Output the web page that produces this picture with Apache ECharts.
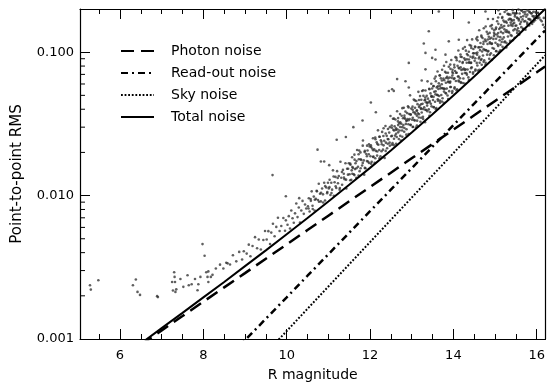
<!DOCTYPE html>
<html><head><meta charset="utf-8">
<script src="https://cdn.jsdelivr.net/npm/echarts@6/dist/echarts.min.js"></script>
<style>html,body{margin:0;padding:0;background:#fff}#c{width:548px;height:387px}</style>
</head><body><div id="c"></div>
<script>
const FONT = 'DejaVu Sans';
const xMin = 5.04, xMax = 16.21;
const yMin = 0.001, yMax = 0.2;
const xMajorTicks = [6, 8, 10, 12, 14, 16];
const xMinorTicks = [5.5, 6.5, 7, 7.5, 8.5, 9, 9.5, 10.5, 11, 11.5, 12.5, 13, 13.5, 14.5, 15, 15.5];
const yMinorTicks = [0.002, 0.003, 0.004, 0.005, 0.006, 0.007, 0.008, 0.009,
                     0.02, 0.03, 0.04, 0.05, 0.06, 0.07, 0.08, 0.09];
const legendNames = ['Photon noise', 'Read-out noise', 'Sky noise', 'Total noise'];

// noise model curves
const curveMag     = [6.5, 7, 7.5, 8, 8.5, 9, 9.5, 10, 10.5, 11, 11.5, 12, 12.5, 13, 13.5, 14, 14.5, 15, 15.5, 16, 16.2];
const photonNoise  = [0.000912, 0.001148, 0.001445, 0.00182, 0.00229, 0.00288, 0.00363, 0.00457, 0.00575, 0.00724, 0.00912, 0.01148, 0.01445, 0.0182, 0.0229, 0.0288, 0.0363, 0.0457, 0.0575, 0.0724, 0.0794];
const readoutNoise = [0.000174, 0.000246, 0.000348, 0.000491, 0.000693, 0.00098, 0.001384, 0.001954, 0.002761, 0.003899, 0.005508, 0.00778, 0.01099, 0.01552, 0.02193, 0.03097, 0.04375, 0.0618, 0.0873, 0.1233, 0.1416];
const skyNoise     = [0.0000935, 0.000134, 0.000191, 0.000273, 0.00039, 0.000557, 0.000796, 0.001137, 0.001625, 0.002322, 0.003318, 0.004741, 0.006774, 0.009678, 0.01383, 0.01976, 0.02823, 0.04034, 0.05764, 0.08237, 0.0950];
const totalNoise   = [0.00093, 0.00119, 0.00152, 0.00195, 0.0025, 0.00322, 0.00415, 0.00538, 0.00698, 0.0091, 0.0119, 0.0156, 0.0206, 0.0275, 0.0369, 0.0498, 0.0676, 0.0925, 0.127, 0.176, 0.200];

// measured stars [R magnitude, point-to-point RMS]
const stars = [
[5.28,0.00237],[5.30,0.00221],[5.48,0.00257],[6.31,0.00237],[6.38,0.00260],[6.42,0.00213],[6.48,0.00203],[6.89,0.00199],[6.91,0.00196],[7.25,0.00250],[7.27,0.00218],[7.30,0.00292],[7.32,0.00250],[7.33,0.00213],[7.35,0.00222],[7.31,0.00271],[7.45,0.00262],[7.52,0.00231],[7.62,0.00278],[7.65,0.00237],[7.72,0.00241],[7.80,0.00262],[7.86,0.00219],[7.88,0.00241],[7.93,0.00271],[7.98,0.00459],[8.03,0.00381],[8.07,0.00292],[8.10,0.00271],[8.12,0.00296],[8.12,0.00250],[8.18,0.00271],[8.22,0.00280],[8.30,0.00310],[8.40,0.00330],[8.48,0.00310],[8.55,0.00340],
[8.58,0.00337],[8.64,0.00331],[8.71,0.00384],[8.79,0.00348],[8.86,0.00405],[8.93,0.00358],[8.97,0.00409],
[9.04,0.00394],[9.09,0.00455],[9.13,0.00378],[9.18,0.00445],[9.24,0.00513],[9.29,0.00429],[9.33,0.00494],[9.38,0.00421],[9.44,0.00490],[9.48,0.00567],
[9.52,0.00494],[9.56,0.00565],[9.60,0.00460],[9.63,0.00552],[9.67,0.00637],[9.71,0.00520],[9.75,0.00605],[9.79,0.00700],[9.83,0.00567],[9.87,0.00614],[9.92,0.00697],[9.96,0.00569],[9.98,0.00672],
[10.02,0.00626],[10.05,0.00719],[10.08,0.00589],[10.11,0.00787],[10.14,0.00695],[10.17,0.00647],[10.20,0.00752],[10.23,0.00880],[10.26,0.00708],[10.29,0.00826],[10.32,0.00649],[10.35,0.00788],[10.38,0.00918],[10.41,0.00746],[10.44,0.00867],[10.47,0.00812],
[10.51,0.00842],[10.53,0.00957],[10.55,0.00774],[10.58,0.00919],[10.60,0.0107],[10.62,0.00849],[10.65,0.00984],[10.67,0.00788],[10.70,0.00948],[10.72,0.0108],[10.75,0.00932],[10.77,0.0121],[10.80,0.0103],[10.82,0.00911],[10.85,0.0112],[10.87,0.0102],[10.90,0.0123],[10.92,0.00925],[10.95,0.0114],[10.97,0.0104],[10.99,0.0123],
[11.01,0.0112],[11.03,0.0129],[11.05,0.0101],[11.07,0.0123],[11.09,0.0110],[11.11,0.0150],[11.13,0.00996],[11.15,0.0124],[11.17,0.0135],[11.19,0.0113],[11.21,0.0148],[11.23,0.0122],[11.25,0.0137],[11.27,0.0110],[11.29,0.0172],[11.31,0.0133],[11.33,0.0119],[11.35,0.0151],[11.37,0.0142],[11.39,0.0130],[11.41,0.0168],[11.43,0.0112],[11.45,0.0154],[11.47,0.0140],[11.49,0.0168],
[11.51,0.0141],[11.53,0.0164],[11.55,0.0129],[11.56,0.0150],[11.57,0.0185],[11.59,0.0156],[11.61,0.0141],[11.63,0.0178],[11.64,0.0153],[11.65,0.0168],[11.67,0.0133],[11.69,0.0208],[11.71,0.0159],[11.73,0.0179],[11.74,0.0206],[11.75,0.0148],[11.77,0.0200],[11.79,0.0177],[11.81,0.0162],[11.83,0.0242],[11.85,0.0176],[11.86,0.0140],[11.87,0.0201],[11.89,0.0155],[11.91,0.0195],[11.93,0.0223],[11.94,0.0206],[11.95,0.0173],[11.97,0.0194],[11.99,0.0220],
[12.01,0.0188],[12.02,0.0224],[12.04,0.0172],[12.05,0.0213],[12.07,0.0251],[12.08,0.0187],[12.10,0.0210],[12.11,0.0169],[12.13,0.0247],[12.14,0.0205],[12.16,0.0235],[12.17,0.0190],[12.19,0.0285],[12.20,0.0226],[12.22,0.0208],[12.23,0.0257],[12.25,0.0188],[12.26,0.0243],[12.28,0.0228],[12.29,0.0278],[12.31,0.0209],[12.32,0.0260],[12.34,0.0241],[12.35,0.0183],[12.37,0.0306],[12.38,0.0234],[12.40,0.0261],[12.41,0.0214],[12.43,0.0291],[12.44,0.0247],[12.46,0.0275],[12.47,0.0234],[12.49,0.0359],
[12.51,0.0259],[12.52,0.0308],[12.54,0.0232],[12.55,0.0343],[12.56,0.0288],[12.57,0.0225],[12.59,0.0304],[12.60,0.0262],[12.61,0.0339],[12.62,0.0287],[12.64,0.0256],[12.65,0.0387],[12.66,0.0289],[12.67,0.0329],[12.69,0.0248],[12.70,0.0319],[12.71,0.0284],[12.72,0.0370],[12.74,0.0242],[12.75,0.0317],[12.76,0.0360],[12.77,0.0284],[12.79,0.0346],[12.80,0.0310],[12.81,0.0410],[12.82,0.0279],[12.84,0.0343],[12.85,0.0385],[12.86,0.0316],[12.87,0.0266],[12.89,0.0376],[12.90,0.0342],[12.91,0.0419],[12.92,0.0314],[12.94,0.0371],[12.95,0.0342],[12.96,0.0500],[12.97,0.0310],[12.99,0.0404],
[13.01,0.0338],[13.02,0.0417],[13.03,0.0302],[13.04,0.0381],[13.05,0.0467],[13.06,0.0336],[13.08,0.0409],[13.09,0.0371],[13.10,0.0298],[13.11,0.0457],[13.12,0.0389],[13.13,0.0333],[13.14,0.0434],[13.15,0.0375],[13.16,0.0529],[13.17,0.0350],[13.19,0.0425],[13.20,0.0494],[13.21,0.0327],[13.22,0.0407],[13.23,0.0466],[13.24,0.0380],[13.25,0.0536],[13.26,0.0437],[13.27,0.0354],[13.28,0.0496],[13.30,0.0413],[13.31,0.0462],[13.32,0.0325],[13.33,0.0541],[13.34,0.0447],[13.35,0.0395],[13.36,0.0496],[13.37,0.0424],[13.38,0.0626],[13.39,0.0474],[13.41,0.0399],[13.42,0.0556],[13.43,0.0457],[13.44,0.0381],[13.45,0.0516],[13.46,0.0437],[13.47,0.0603],[13.48,0.0489],[13.49,0.0558],
[13.51,0.0464],[13.52,0.0578],[13.53,0.0414],[13.54,0.0529],[13.55,0.0654],[13.56,0.0451],[13.57,0.0508],[13.58,0.0627],[13.59,0.0408],[13.60,0.0568],[13.61,0.0504],[13.62,0.0733],[13.63,0.0459],[13.64,0.0553],[13.65,0.0606],[13.66,0.0495],[13.67,0.0687],[13.68,0.0444],[13.69,0.0559],[13.70,0.0657],[13.71,0.0503],[13.72,0.0598],[13.73,0.0755],[13.74,0.0477],[13.75,0.0558],[13.76,0.0655],[13.77,0.0443],[13.78,0.0638],[13.79,0.0553],[13.80,0.0729],[13.81,0.0519],[13.82,0.0612],[13.83,0.0855],[13.84,0.0557],[13.85,0.0673],[13.86,0.0499],[13.87,0.0719],[13.88,0.0617],[13.89,0.0792],[13.90,0.0535],[13.91,0.0666],[13.92,0.0613],[13.93,0.0765],[13.94,0.0572],[13.95,0.0881],[13.96,0.0662],[13.97,0.0519],[13.98,0.0753],[13.99,0.0713],
[14.01,0.0651],[14.02,0.0816],[14.03,0.0568],[14.04,0.0740],[14.05,0.0923],[14.06,0.0630],[14.07,0.0718],[14.08,0.0879],[14.09,0.0552],[14.10,0.0804],[14.11,0.0676],[14.12,0.1027],[14.13,0.0624],[14.14,0.0770],[14.15,0.0861],[14.16,0.0658],[14.17,0.0964],[14.18,0.0611],[14.19,0.0753],[14.20,0.0926],[14.21,0.0706],[14.22,0.0841],[14.23,0.1058],[14.24,0.0656],[14.25,0.0770],[14.26,0.0908],[14.27,0.0604],[14.28,0.0884],[14.29,0.0759],[14.30,0.1025],[14.31,0.0714],[14.32,0.0844],[14.33,0.1214],[14.34,0.0758],[14.35,0.0952],[14.36,0.0667],[14.37,0.1008],[14.38,0.0851],[14.39,0.1120],[14.40,0.0728],[14.41,0.0930],[14.42,0.0840],[14.43,0.1071],[14.44,0.0785],[14.45,0.1228],[14.46,0.0913],[14.47,0.0707],[14.48,0.1051],[14.49,0.0983],
[14.51,0.0870],[14.52,0.1096],[14.53,0.0758],[14.54,0.0984],[14.55,0.1242],[14.56,0.0842],[14.57,0.0960],[14.58,0.1209],[14.59,0.0744],[14.60,0.1080],[14.61,0.0905],[14.62,0.1422],[14.63,0.0843],[14.64,0.1033],[14.65,0.1159],[14.66,0.0881],[14.67,0.1308],[14.68,0.0818],[14.69,0.1012],[14.70,0.1256],[14.71,0.0948],[14.72,0.1141],[14.73,0.1468],[14.74,0.0879],[14.75,0.1035],[14.76,0.1224],[14.77,0.0816],[14.78,0.1191],[14.79,0.1029],[14.80,0.1387],[14.81,0.0961],[14.82,0.1140],[14.83,0.1704],[14.84,0.1020],[14.85,0.1280],[14.86,0.0898],[14.87,0.1363],[14.88,0.1150],[14.89,0.1519],[14.90,0.0981],[14.91,0.1259],[14.92,0.1143],[14.93,0.1460],[14.94,0.1068],[14.95,0.1702],[14.96,0.1236],[14.97,0.0952],[14.98,0.1424],[14.99,0.1333],
[15.01,0.1164],[15.02,0.1452],[15.03,0.1018],[15.04,0.1329],[15.05,0.1643],[15.06,0.1134],[15.07,0.1286],[15.08,0.1576],[15.09,0.1000],[15.10,0.1449],[15.11,0.1210],[15.12,0.1846],[15.13,0.1126],[15.14,0.1385],[15.15,0.1547],[15.16,0.1178],[15.17,0.1732],[15.18,0.1089],[15.19,0.1357],[15.20,0.1661],[15.21,0.1268],[15.22,0.1522],[15.23,0.1906],[15.24,0.1186],[15.25,0.1389],[15.26,0.1638],[15.27,0.1077],[15.28,0.1604],[15.29,0.1380],[15.30,0.1848],[15.31,0.1285],[15.32,0.1531],[15.33,0.1826],[15.34,0.1367],[15.35,0.1711],[15.36,0.1198],[15.37,0.1827],[15.38,0.1543],[15.39,0.1684],[15.40,0.1300],[15.41,0.1657],[15.42,0.1523],[15.43,0.1873],[15.44,0.1420],[15.45,0.1676],[15.46,0.1600],[15.47,0.1260],[15.48,0.1834],[15.49,0.1529],
[15.51,0.1534],[15.52,0.1866],[15.53,0.1360],[15.54,0.1721],[15.55,0.1469],[15.56,0.1982],[15.57,0.1663],[15.58,0.1326],[15.59,0.1860],[15.60,0.1574],[15.62,0.1760],[15.63,0.1495],[15.64,0.1950],[15.66,0.1693],[15.67,0.1448],[15.68,0.1902],[15.70,0.1637],[15.72,0.1835],[15.73,0.1434],[15.75,0.1766],[15.77,0.1608],[15.78,0.1955],[15.80,0.1703],[15.82,0.1537],[15.83,0.1894],[15.85,0.1679],[15.87,0.1863],[15.89,0.1576],[15.90,0.1785],[15.92,0.1910],[15.94,0.1731],[15.96,0.1668],[15.98,0.1881],[16.01,0.1741],[16.03,0.1873],[16.06,0.1745],[16.09,0.1683],[16.12,0.1643],[16.15,0.1552],[16.17,0.1734],[16.19,0.1490],
[9.66,0.0139],[9.98,0.0099],[10.30,0.0096],[10.74,0.0209],[10.82,0.0173],[10.90,0.0173],[11.02,0.0163],[11.20,0.0245],[11.42,0.0256],[11.60,0.0300],[11.82,0.0334],[12.02,0.0446],[12.14,0.0381],[12.45,0.0536],[12.53,0.0551],[12.57,0.0537],[12.65,0.0649],[12.85,0.0627],[12.93,0.0567],[12.93,0.0842],[13.24,0.0634],[13.29,0.1150],[13.33,0.0759],[13.33,0.0988],[13.41,0.1400],[13.49,0.0912],[13.57,0.1040],[13.57,0.0890],[13.65,0.1920],[13.81,0.0961],[13.89,0.1190],[14.13,0.1220],[14.37,0.1610],[14.77,0.1920],[15.08,0.1960]
];

// further stars in the crowded part of the cloud [R magnitude, RMS]
const starsDense = [
[10.525,0.00813],[10.575,0.00945],[10.625,0.00807],[10.675,0.00936],[10.725,0.0107],[10.775,0.00905],[10.825,0.01046],[10.875,0.00895],[10.925,0.01164],[10.975,0.0106],
[11.025,0.01145],[11.075,0.01043],[11.125,0.0136],[11.175,0.0116],[11.225,0.01325],[11.275,0.01129],[11.325,0.01462],[11.375,0.01334],[11.425,0.01292],[11.475,0.01538],
[11.525,0.0128],[11.575,0.0142],[11.625,0.0139],[11.675,0.0155],[11.725,0.0138],[11.775,0.0155],[11.825,0.0169],[11.875,0.0156],[11.925,0.0174],[11.975,0.0169],
[11.525,0.0167],[11.575,0.0158],[11.625,0.0193],[11.675,0.0174],[11.725,0.0194],[11.775,0.0179],[11.825,0.0223],[11.875,0.0205],[11.925,0.0188],[11.975,0.0228],
[12.025,0.0167],[12.075,0.0186],[12.125,0.0182],[12.175,0.0203],[12.225,0.0182],[12.275,0.0204],[12.325,0.0224],[12.375,0.0205],[12.425,0.0230],[12.475,0.0223],
[12.025,0.0218],[12.075,0.0207],[12.125,0.0254],[12.175,0.0229],[12.225,0.0257],[12.275,0.0237],[12.325,0.0295],[12.375,0.0271],[12.425,0.0248],[12.475,0.0300],
[12.525,0.0226],[12.575,0.0249],[12.625,0.0230],[12.675,0.0276],[12.725,0.0261],[12.775,0.0257],[12.825,0.0296],[12.875,0.0290],[12.925,0.0269],[12.975,0.0312],
[12.525,0.0297],[12.575,0.0344],[12.625,0.0294],[12.675,0.0347],[12.725,0.0324],[12.775,0.0407],[12.825,0.0361],[12.875,0.0332],[12.925,0.0412],[12.975,0.0369],
[12.525,0.0261],[12.575,0.0284],[12.625,0.0270],[12.675,0.0310],[12.725,0.0301],[12.775,0.0300],[12.825,0.0349],[12.875,0.0334],[12.925,0.0335],[12.975,0.0366],
[13.025,0.0301],[13.075,0.0334],[13.125,0.0308],[13.175,0.0369],[13.225,0.0349],[13.275,0.0342],[13.325,0.0396],[13.375,0.0388],[13.425,0.0360],[13.475,0.0419],
[13.025,0.0396],[13.075,0.0461],[13.125,0.0394],[13.175,0.0464],[13.225,0.0433],[13.275,0.0543],[13.325,0.0483],[13.375,0.0442],[13.425,0.0551],[13.475,0.0495],
[13.025,0.0349],[13.075,0.0380],[13.125,0.0361],[13.175,0.0415],[13.225,0.0402],[13.275,0.0401],[13.325,0.0466],[13.375,0.0446],[13.425,0.0448],[13.475,0.0491],
[13.525,0.0413],[13.575,0.0401],[13.625,0.0470],[13.675,0.0459],[13.725,0.0453],[13.775,0.0531],[13.825,0.0516],[13.875,0.0471],[13.925,0.0571],[13.975,0.0535],
[13.525,0.0581],[13.575,0.0676],[13.625,0.0577],[13.675,0.0689],[13.725,0.0635],[13.775,0.0805],[13.825,0.0718],[13.875,0.0656],[13.925,0.0819],[13.975,0.0727],
[13.525,0.0488],[13.575,0.0533],[13.625,0.0501],[13.675,0.0582],[13.725,0.0563],[13.775,0.0557],[13.825,0.0660],[13.875,0.0624],[13.925,0.0624],[13.975,0.0687],
[14.025,0.0557],[14.075,0.0542],[14.125,0.0634],[14.175,0.0619],[14.225,0.0610],[14.275,0.0716],[14.325,0.0697],[14.375,0.0638],[14.425,0.0774],[14.475,0.0725],
[14.025,0.0784],[14.075,0.0912],[14.125,0.0779],[14.175,0.0929],[14.225,0.0855],[14.275,0.1086],[14.325,0.0970],[14.375,0.0888],[14.425,0.1109],[14.475,0.0984],
[14.025,0.0658],[14.075,0.0719],[14.125,0.0677],[14.175,0.0785],[14.225,0.0758],[14.275,0.0751],[14.325,0.0891],[14.375,0.0844],[14.425,0.0845],[14.475,0.0931],
[14.525,0.0742],[14.575,0.0808],[14.625,0.0753],[14.675,0.0897],[14.725,0.0856],[14.775,0.0843],[14.825,0.1010],[14.875,0.0958],[14.925,0.0883],[14.975,0.1057],
[14.525,0.1085],[14.575,0.1276],[14.625,0.1082],[14.675,0.1282],[14.725,0.1183],[14.775,0.1510],[14.825,0.1341],[14.875,0.1240],[14.925,0.1545],[14.975,0.1367],
[14.525,0.0907],[14.575,0.0993],[14.625,0.0928],[14.675,0.1086],[14.725,0.1050],[14.775,0.1036],[14.825,0.1225],[14.875,0.1171],[14.925,0.1148],[14.975,0.1294],
[15.025,0.1015],[15.075,0.1106],[15.125,0.1032],[15.175,0.1230],[15.225,0.1175],[15.275,0.1157],[15.325,0.1388],[15.375,0.1315],[15.425,0.1212],[15.475,0.1451],
[15.025,0.1485],[15.075,0.1746],[15.125,0.1483],[15.175,0.1758],[15.225,0.1623],[15.275,0.1962],[15.325,0.1844],[15.375,0.1702],[15.425,0.1963],[15.475,0.1877],
[15.025,0.1241],[15.075,0.1358],[15.125,0.1273],[15.175,0.1489],[15.225,0.1442],[15.275,0.1422],[15.325,0.1684],[15.375,0.1608],[15.425,0.1576],[15.475,0.1776],
[15.525,0.1419],[15.575,0.1399],[15.625,0.1627],[15.675,0.1454],[15.725,0.1650],[15.775,0.1568],[15.825,0.1699],[15.875,0.1625],[15.925,0.1781],[15.975,0.1788],[16.025,0.1723],
[15.525,0.1742],[15.575,0.1705],[15.625,0.1958],[15.675,0.1781],[15.725,0.1915],[15.775,0.1826],[15.825,0.1919],[15.875,0.1869],[15.925,0.1630],[15.975,0.1910],[16.025,0.1885]
];

const pairs = (ys) => curveMag.map((m, i) => [m, ys[i]]);
const black = '#000';
const axisLineStyle = { color: black, width: 1.2 };

function xAxisDef(position, ticks, len, showLine, extra) {
  return Object.assign({
    type: 'value', position: position, min: xMin, max: xMax,
    axisLine: { show: showLine, onZero: false, lineStyle: axisLineStyle },
    axisTick: { show: true, inside: true, length: len, customValues: ticks, lineStyle: { color: black, width: 1 } },
    axisLabel: { show: false },
    splitLine: { show: false }
  }, extra || {});
}

function noiseLine(name, ys, width, dash, z) {
  return {
    name: name, type: 'line', data: pairs(ys), symbol: 'none', showSymbol: false, clip: true,
    color: black, itemStyle: { color: black },
    lineStyle: { color: black, width: width, type: dash }, z: z, silent: true
  };
}

const chart = echarts.init(document.getElementById('c'), null, { renderer: 'canvas' });
chart.setOption({
  animation: false,
  backgroundColor: '#fff',
  grid: { left: 80, right: 1, top: 9, bottom: 43 },
  legend: {
    data: legendNames, orient: 'vertical', left: 120, top: 44, padding: 0,
    itemWidth: 33, itemHeight: 14, itemGap: 8, selectedMode: false,
    itemStyle: { opacity: 0 },
    textStyle: { fontFamily: FONT, fontSize: 14, color: black, padding: [0, 0, 0, 12] }
  },
  xAxis: [
    xAxisDef('bottom', xMajorTicks, 10, true, {
      name: 'R magnitude', nameLocation: 'middle', nameGap: 29,
      nameTextStyle: { fontFamily: FONT, fontSize: 14, color: black },
      axisLabel: { show: true, customValues: xMajorTicks, margin: 10, fontFamily: FONT, fontSize: 13, color: black }
    }),
    xAxisDef('bottom', xMinorTicks, 5, false),
    xAxisDef('top', xMajorTicks, 10, true),
    xAxisDef('top', xMinorTicks, 5, false)
  ],
  yAxis: [
    {
      type: 'log', logBase: 10, position: 'left', min: yMin, max: yMax,
      name: 'Point-to-point RMS', nameLocation: 'middle', nameGap: 55,
      nameTextStyle: { fontFamily: FONT, fontSize: 15, color: black },
      axisLine: { show: true, onZero: false, lineStyle: axisLineStyle },
      axisTick: { show: true, inside: true, length: 10, lineStyle: { color: black, width: 1 } },
      axisLabel: { showMaxLabel: false, margin: 6, fontFamily: FONT, fontSize: 13, color: black,
                   formatter: (v) => Number(v).toFixed(3) },
      splitLine: { show: false }
    },
    {
      type: 'log', logBase: 10, position: 'right', min: yMin, max: yMax,
      axisLine: { show: true, onZero: false, lineStyle: axisLineStyle },
      axisTick: { show: true, inside: true, length: 10, lineStyle: { color: black, width: 1 } },
      axisLabel: { show: false },
      splitLine: { show: false }
    }
  ],
  series: [
    {
      name: 'Stars', type: 'scatter', data: stars.concat(starsDense), symbol: 'circle', symbolSize: 2.6,
      itemStyle: { color: '#2a2a2a', opacity: 0.75 }, silent: true, z: 2
    },
    noiseLine('Photon noise', photonNoise, 2.5, [13, 7], 3),
    noiseLine('Read-out noise', readoutNoise, 2.5, [7, 4, 2, 4], 3),
    noiseLine('Sky noise', skyNoise, 2, [1.8, 1.8], 3),
    noiseLine('Total noise', totalNoise, 2, 'solid', 4),
    {
      name: 'minorTicksY', type: 'custom', silent: true, z: 5,
      data: yMinorTicks.map((v) => [xMin, v]),
      renderItem: (params, api) => {
        const p = api.coord([api.value(0), api.value(1)]);
        return { type: 'line', shape: { x1: p[0], y1: p[1], x2: p[0] + 5, y2: p[1] },
                 style: { stroke: black, lineWidth: 1 } };
      }
    }
  ]
});
</script></body></html>
